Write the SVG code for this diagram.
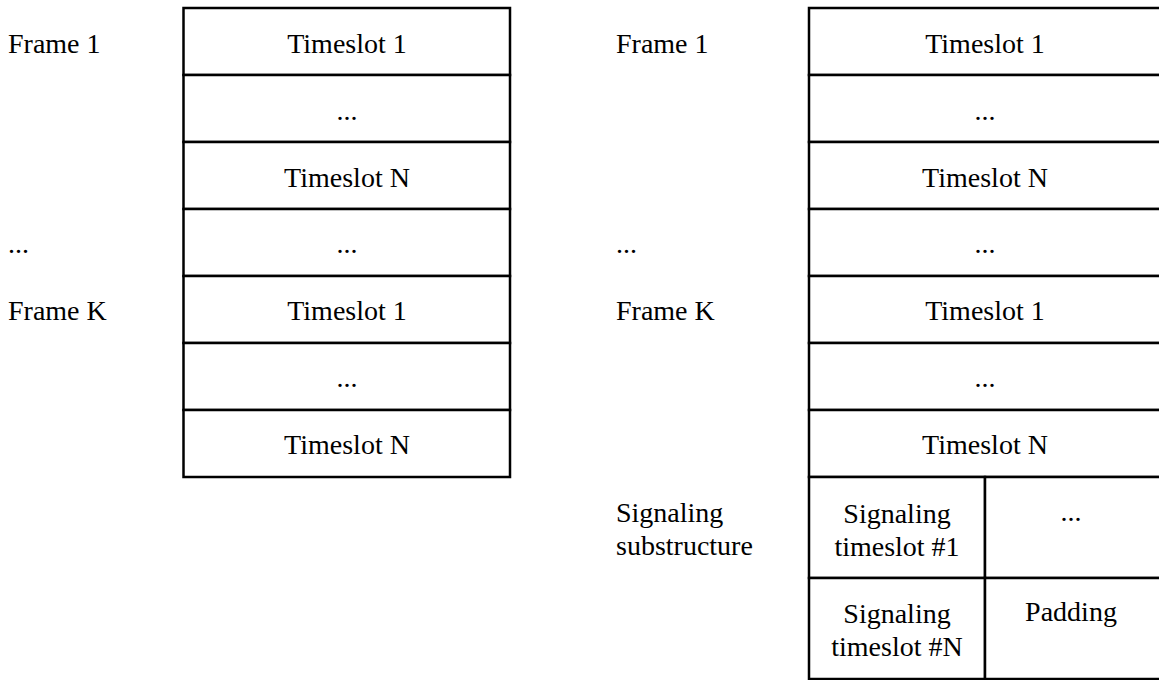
<svg xmlns="http://www.w3.org/2000/svg" width="1159" height="680" viewBox="0 0 1159 680">
  <style>
    .cell { fill: #ffffff; stroke: #000000; stroke-width: 2.5; }
    .t { font-family: "Liberation Serif", "Times New Roman", serif; font-size: 28px; fill: #000000; }
    .c { text-anchor: middle; }
  </style>
  <rect x="0" y="0" width="1159" height="680" fill="#ffffff"/>

  <!-- Row labels, left structure -->
  <g id="labels-left">
    <text class="t" x="8" y="53">Frame 1</text>
    <text class="t" x="8" y="253">...</text>
    <text class="t" x="8" y="320">Frame K</text>
  </g>

  <!-- Left frame structure -->
  <g id="frames-left">
    <rect class="cell" x="183.5" y="8" width="326.5" height="67"/>
    <text class="t c" x="347" y="53">Timeslot 1</text>
    <rect class="cell" x="183.5" y="75" width="326.5" height="67"/>
    <text class="t c" x="347" y="120">...</text>
    <rect class="cell" x="183.5" y="142" width="326.5" height="67"/>
    <text class="t c" x="347" y="187">Timeslot N</text>
    <rect class="cell" x="183.5" y="209" width="326.5" height="67"/>
    <text class="t c" x="347" y="253">...</text>
    <rect class="cell" x="183.5" y="276" width="326.5" height="67"/>
    <text class="t c" x="347" y="320">Timeslot 1</text>
    <rect class="cell" x="183.5" y="343" width="326.5" height="67"/>
    <text class="t c" x="347" y="387">...</text>
    <rect class="cell" x="183.5" y="410" width="326.5" height="67"/>
    <text class="t c" x="347" y="454">Timeslot N</text>
  </g>

  <!-- Row labels, right structure -->
  <g id="labels-right">
    <text class="t" x="616" y="53">Frame 1</text>
    <text class="t" x="616" y="253">...</text>
    <text class="t" x="616" y="320">Frame K</text>
    <text class="t" x="616" y="522">Signaling</text>
    <text class="t" x="616" y="555">substructure</text>
  </g>

  <!-- Right frame structure -->
  <g id="frames-right">
    <rect class="cell" x="809" y="8" width="352" height="67"/>
    <text class="t c" x="985" y="53">Timeslot 1</text>
    <rect class="cell" x="809" y="75" width="352" height="67"/>
    <text class="t c" x="985" y="120">...</text>
    <rect class="cell" x="809" y="142" width="352" height="67"/>
    <text class="t c" x="985" y="187">Timeslot N</text>
    <rect class="cell" x="809" y="209" width="352" height="67"/>
    <text class="t c" x="985" y="253">...</text>
    <rect class="cell" x="809" y="276" width="352" height="67"/>
    <text class="t c" x="985" y="320">Timeslot 1</text>
    <rect class="cell" x="809" y="343" width="352" height="67"/>
    <text class="t c" x="985" y="387">...</text>
    <rect class="cell" x="809" y="410" width="352" height="67"/>
    <text class="t c" x="985" y="454">Timeslot N</text>
  </g>

  <!-- Signaling substructure: 2x2 grid -->
  <g id="signaling">
    <rect class="cell" x="809" y="477" width="176" height="101"/>
    <text class="t c" x="897" y="523">Signaling</text>
    <text class="t c" x="897" y="556">timeslot #1</text>
    <rect class="cell" x="985" y="477" width="176" height="101"/>
    <text class="t c" x="1071" y="521">...</text>
    <rect class="cell" x="809" y="578" width="176" height="101"/>
    <text class="t c" x="897" y="623">Signaling</text>
    <text class="t c" x="897" y="656">timeslot #N</text>
    <rect class="cell" x="985" y="578" width="176" height="101"/>
    <text class="t c" x="1071" y="621">Padding</text>
  </g>
</svg>
